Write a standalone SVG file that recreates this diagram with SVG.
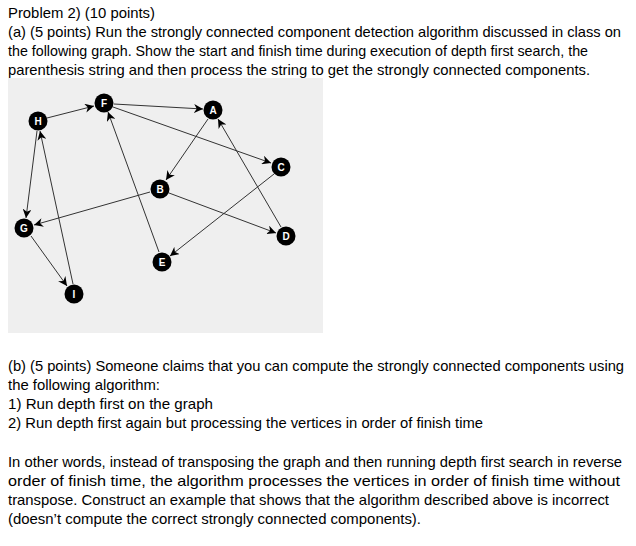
<svg xmlns="http://www.w3.org/2000/svg" width="636" height="546" viewBox="0 0 636 546">
<style>
.t{font-family:"Liberation Sans","Noto Sans",sans-serif;font-size:14.5px;fill:#000}
.n circle{fill:#000}
.n text{font-family:"Liberation Sans",Arial,sans-serif;font-size:10px;font-weight:bold;fill:#fff;text-anchor:middle}
.e line{stroke:#333;stroke-width:1;marker-end:url(#a)}
</style>
<defs><marker id="a" viewBox="0 0 10 10" refX="10" refY="5" markerWidth="9" markerHeight="9" markerUnits="userSpaceOnUse" orient="auto"><path d="M0,0L10,5L0,10L3,5z" fill="#000"/></marker></defs>
<rect width="636" height="546" fill="#fff"/>
<text class="t" x="8" y="18" textLength="147" lengthAdjust="spacingAndGlyphs">Problem 2) (10 points)</text>
<text class="t" x="8" y="37" textLength="613" lengthAdjust="spacingAndGlyphs">(a) (5 points) Run the strongly connected component detection algorithm discussed in class on</text>
<text class="t" x="8" y="56" textLength="580" lengthAdjust="spacingAndGlyphs">the following graph.  Show the start and finish time during execution of depth first search, the</text>
<text class="t" x="8" y="75" textLength="582" lengthAdjust="spacingAndGlyphs">parenthesis string and then process the string to get the strongly connected components.</text>
<rect x="8" y="78" width="315" height="255" fill="#efefef"/>
<g class="e">
<line x1="47" y1="118" x2="94" y2="106"/>
<line x1="37" y1="131" x2="26" y2="218"/>
<line x1="73" y1="284" x2="40" y2="131"/>
<line x1="31" y1="236" x2="67" y2="286"/>
<line x1="114" y1="104" x2="203" y2="109"/>
<line x1="113" y1="107" x2="271" y2="163"/>
<line x1="159" y1="252" x2="108" y2="112"/>
<line x1="208" y1="119" x2="166" y2="180"/>
<line x1="150" y1="192" x2="34" y2="225"/>
<line x1="169" y1="193" x2="276" y2="233"/>
<line x1="274" y1="174" x2="170" y2="256"/>
<line x1="281" y1="227" x2="218" y2="119"/>
</g>
<g id="H" class="n"><circle cx="38" cy="121" r="9.5"/><text x="38" y="124.5">H</text></g>
<g id="F" class="n"><circle cx="104" cy="103" r="9.5"/><text x="104" y="106.5">F</text></g>
<g id="A" class="n"><circle cx="213" cy="110" r="9.5"/><text x="213" y="113.5">A</text></g>
<g id="C" class="n"><circle cx="281" cy="167" r="9.5"/><text x="281" y="170.5">C</text></g>
<g id="B" class="n"><circle cx="160" cy="189" r="9.5"/><text x="160" y="192.5">B</text></g>
<g id="D" class="n"><circle cx="286" cy="236" r="9.5"/><text x="286" y="239.5">D</text></g>
<g id="G" class="n"><circle cx="24" cy="228" r="9.5"/><text x="24" y="231.5">G</text></g>
<g id="E" class="n"><circle cx="162" cy="262" r="9.5"/><text x="162" y="265.5">E</text></g>
<g id="I" class="n"><circle cx="74" cy="294" r="9.5"/><text x="74" y="297.5">I</text></g>
<text class="t" x="8" y="371" textLength="616" lengthAdjust="spacingAndGlyphs">(b) (5 points) Someone claims that you can compute the strongly connected components using</text>
<text class="t" x="8" y="390" textLength="152" lengthAdjust="spacingAndGlyphs">the following algorithm:</text>
<text class="t" x="8" y="409" textLength="205" lengthAdjust="spacingAndGlyphs">1) Run depth first on the graph</text>
<text class="t" x="8" y="428" textLength="475" lengthAdjust="spacingAndGlyphs">2) Run depth first again but processing the vertices in order of finish time</text>
<text class="t" x="8" y="467" textLength="614" lengthAdjust="spacingAndGlyphs">In other words, instead of transposing the graph and then running depth first search in reverse</text>
<text class="t" x="8" y="486" textLength="612" lengthAdjust="spacingAndGlyphs">order of finish time, the algorithm processes the vertices in order of finish time without</text>
<text class="t" x="8" y="505" textLength="601" lengthAdjust="spacingAndGlyphs">transpose.  Construct an example that shows that the algorithm described above is incorrect</text>
<text class="t" x="8" y="524" textLength="413" lengthAdjust="spacingAndGlyphs">(doesn’t compute the correct strongly connected components).</text>
</svg>
